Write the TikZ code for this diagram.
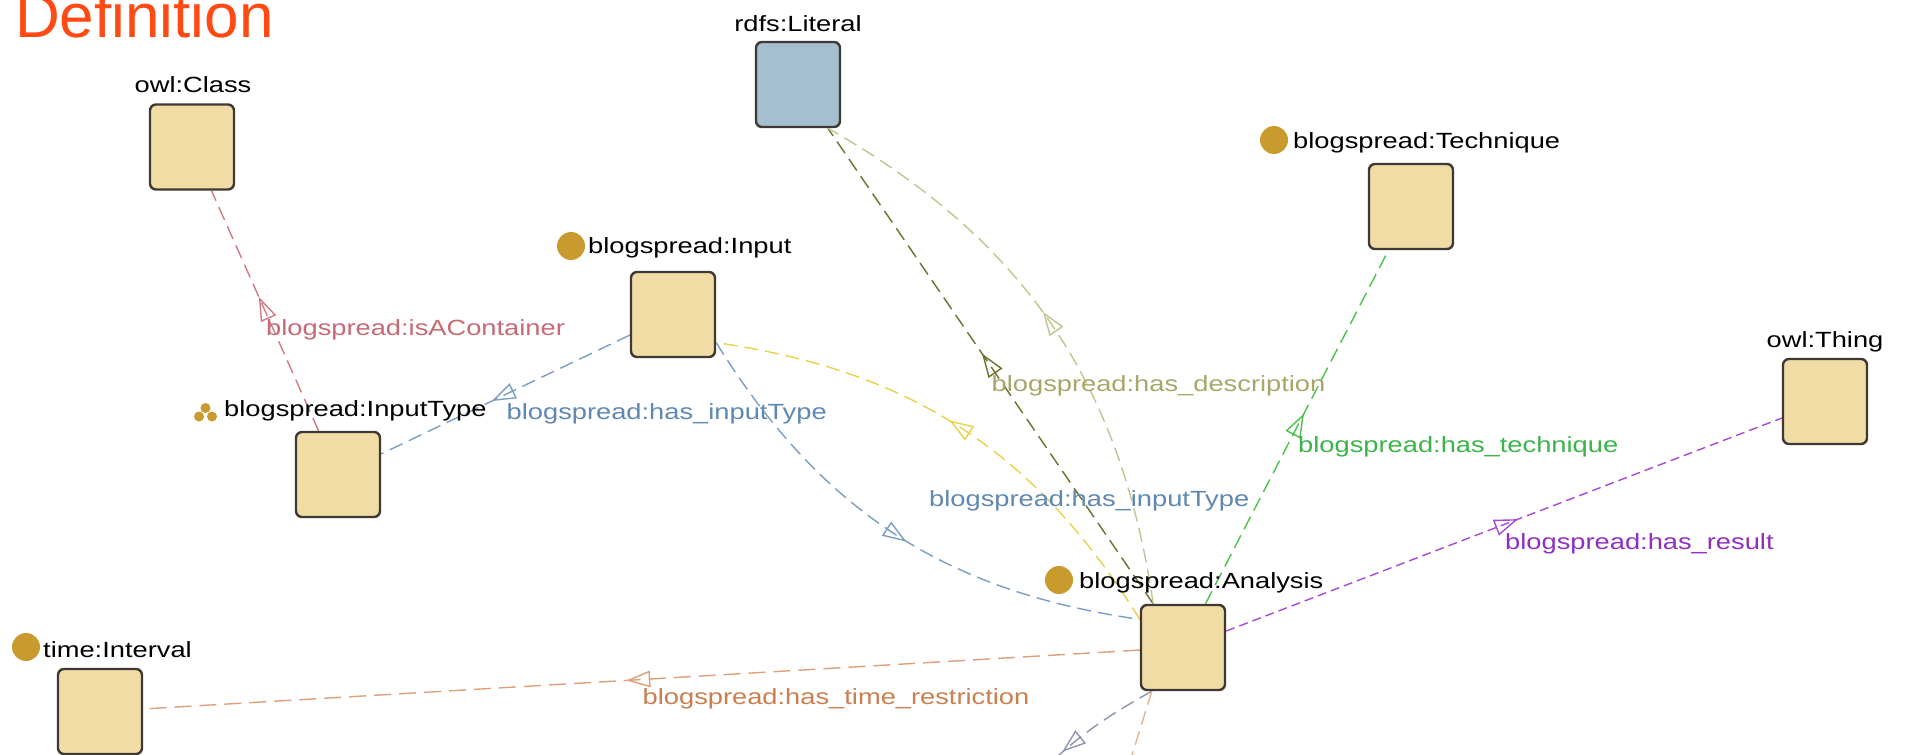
\documentclass[tikz,border=0pt]{standalone}
\usepackage{fontspec}
\setmainfont{Liberation Sans}
\newfontfamily\lblfont[FakeStretch=1.24]{Liberation Sans}
\usetikzlibrary{calc,decorations.markings}

\definecolor{boxfill}{HTML}{F2DCA6}
\definecolor{litfill}{HTML}{A3BFD0}
\definecolor{boxline}{HTML}{3E3A33}
\definecolor{gold}{HTML}{C99A2E}
\definecolor{titlec}{HTML}{FF4A14}
\definecolor{cRedL}{HTML}{D07A84}
\definecolor{cRedT}{HTML}{C86A76}
\definecolor{cBlueL}{HTML}{7C9EC4}
\definecolor{cBlueT}{HTML}{5F88B2}
\definecolor{cYellowL}{HTML}{E8D24A}
\definecolor{cOliveD}{HTML}{6F6F30}
\definecolor{cOliveL}{HTML}{C4C48E}
\definecolor{cOliveT}{HTML}{A9A66A}
\definecolor{cGreenL}{HTML}{4CC24C}
\definecolor{cGreenT}{HTML}{3CB44A}
\definecolor{cPurpleL}{HTML}{A64AD6}
\definecolor{cPurpleT}{HTML}{9030C2}
\definecolor{cOrangeL}{HTML}{DCA07A}
\definecolor{cOrangeT}{HTML}{CC7E4E}
\definecolor{cGreyL}{HTML}{8E96AE}
\definecolor{cPeachL}{HTML}{E4B48E}

\pgfdeclarelayer{edgelayer}
\pgfsetlayers{edgelayer,main}

\begin{document}
\begin{tikzpicture}[x=1pt,y=-1pt,
  box/.style={draw=boxline, line width=2.4pt, fill=boxfill, rounded corners=6pt,
    minimum width=84pt, minimum height=85pt, inner sep=0pt},
  lbl/.style={font=\lblfont\fontsize{22}{24}\selectfont, inner sep=0pt},
  icon/.style={circle, fill=gold, minimum size=28pt, inner sep=0pt},
  dot/.style={circle, fill=gold, minimum size=10pt, inner sep=0pt},
  edge/.style={line width=1.4pt, dash pattern=on 14pt off 7pt},
  midarrow/.style={postaction={decorate, decoration={markings,
    mark=at position 0.5 with {\draw[solid, line width=1.4pt, line join=miter]
      (13pt,0pt) -- (-8pt,7.5pt) -- (-8pt,-7.5pt) -- cycle;}}}},
]
\useasboundingbox (0,0) rectangle (1907,755);
\clip (0,0) rectangle (1907,755);

% title
\node[font=\fontsize{62}{70}\selectfont, text=titlec, anchor=base west, inner sep=0pt] (title) at (15,37) {Definition};

% boxes
\node[box] (cls) at (192,147) {};
\node[box, fill=litfill] (lit) at (798,84.5) {};
\node[box] (input) at (673,314.5) {};
\node[box] (tech) at (1411,206.5) {};
\node[box] (thing) at (1825,401.5) {};
\node[box] (itype) at (338,474.5) {};
\node[box] (intv) at (100,711.5) {};
\node[box] (ana) at (1183,647.5) {};

% helper coordinates
\path (input) -- (ana) coordinate[pos=0] (ia1) coordinate[pos=1] (ia2);
\path (lit) -- (ana) coordinate[pos=0] (la1) coordinate[pos=1] (la2);
\coordinate (anaB) at ($(ana.south west)+(12,0)$);
\coordinate (offG) at (1008,808);
\coordinate (offO) at (1093,881);

% edges (under the boxes)
\begin{pgfonlayer}{edgelayer}
\fill[white] (0,0) rectangle (1907,755);
\draw[edge, color=cRedL, midarrow] (itype) -- (cls);
\draw[edge, color=cBlueL, midarrow] (input) -- (itype);
\draw[edge, color=cBlueL, midarrow] (ia1) to[bend right=25] (ia2);
\draw[edge, color=cYellowL, midarrow] (ia2) to[bend right=25] (ia1);
\draw[edge, color=cOliveD, midarrow] (la2) -- (la1);
\draw[edge, color=cOliveL, midarrow] (la2) to[bend right=26] (la1);
\draw[edge, color=cGreenL, midarrow] (ana) -- (tech);
\draw[edge, color=cPurpleL, dash pattern=on 9pt off 5pt, midarrow] (ana) -- (thing);
\draw[edge, color=cOrangeL, dash pattern=on 17pt off 8pt, midarrow] (ana) -- (intv);
\draw[edge, color=cGreyL, midarrow] (anaB) to[bend right=10] (offG);
\draw[edge, color=cPeachL] (anaB) -- (offO);
\end{pgfonlayer}

% node labels
\node[lbl, anchor=base] (clsL) at (193,92) {owl:Class};
\node[lbl, anchor=base] (litL) at (798,31) {rdfs:Literal};
\node[icon] (inputI) at (571,246) {};
\node[lbl, anchor=base west] (inputL) at (588,253) {blogspread:Input};
\node[icon] (techI) at (1274,140) {};
\node[lbl, anchor=base west] (techL) at (1293,148) {blogspread:Technique};
\node[lbl, anchor=base] (thingL) at (1825,347) {owl:Thing};
\node[dot] (itypeD1) at (205.5,408) {};
\node[dot] (itypeD2) at (199,416.5) {};
\node[dot] (itypeD3) at (212,416.5) {};
\node[lbl, anchor=base west] (itypeL) at (224,416) {blogspread:InputType};
\node[icon] (intvI) at (26,647) {};
\node[lbl, anchor=base west] (intvL) at (43,657) {time:Interval};
\node[icon] (anaI) at (1059,580) {};
\node[lbl, anchor=base west] (anaL) at (1079,588) {blogspread:Analysis};

% edge labels (top-left at the midpoint between node centres)
\node[lbl, text=cRedT, anchor=base west] (isaL) at ($(itype)!0.5!(cls)+(1,25)$) {blogspread:isAContainer};
\node[lbl, text=cBlueT, anchor=base west] (hitL) at ($(input)!0.5!(itype)+(1,25)$) {blogspread:has\_inputType};
\node[lbl, text=cBlueT, anchor=base west] (hit2L) at ($(input)!0.5!(ana)+(1,25)$) {blogspread:has\_inputType};
\node[lbl, text=cOliveT, anchor=base west] (descL) at ($(lit)!0.5!(ana)+(1,25)$) {blogspread:has\_description};
\node[lbl, text=cGreenT, anchor=base west] (techEL) at ($(tech)!0.5!(ana)+(1,25)$) {blogspread:has\_technique};
\node[lbl, text=cPurpleT, anchor=base west] (resL) at ($(thing)!0.5!(ana)+(1,25)$) {blogspread:has\_result};
\node[lbl, text=cOrangeT, anchor=base west] (timeL) at ($(intv)!0.5!(ana)+(1,25)$) {blogspread:has\_time\_restriction};
\end{tikzpicture}
\end{document}
